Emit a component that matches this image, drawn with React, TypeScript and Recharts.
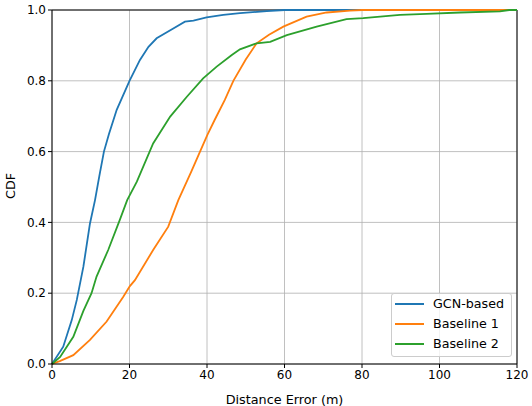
import { LineChart, Line, XAxis, YAxis, CartesianGrid, ReferenceLine } from "recharts";

const xTicks = [0, 20, 40, 60, 80, 100, 120];
const yTicks = [0, 0.2, 0.4, 0.6, 0.8, 1.0];

const gcnX = [0, 2.9, 5.1, 6.4, 8.1, 9.8, 11.1, 12.2, 13.4, 14.7, 16.7, 20, 22.7, 24.9, 27, 31.3, 34.3, 36.5, 39.9, 44.2, 48.5, 55.4, 60, 120];
const gcnY = [0, 0.049, 0.124, 0.181, 0.275, 0.397, 0.463, 0.53, 0.6, 0.65, 0.718, 0.8, 0.859, 0.896, 0.92, 0.948, 0.967, 0.97, 0.979, 0.986, 0.991, 0.997, 1, 1];

const base1X = [0, 2, 5.5, 9.8, 14.1, 18.4, 20.1, 21.4, 26.1, 30, 32.6, 36, 38.2, 40.1, 42, 44.6, 46.8, 50, 52.8, 56, 59.7, 65.7, 70.9, 76.9, 80, 120];
const base1Y = [0, 0.008, 0.025, 0.068, 0.12, 0.19, 0.22, 0.237, 0.322, 0.388, 0.463, 0.545, 0.6, 0.647, 0.69, 0.746, 0.8, 0.86, 0.906, 0.93, 0.953, 0.981, 0.993, 0.998, 1, 1];

const base2X = [0, 2.1, 5.5, 8.1, 10.2, 11.5, 14.5, 17.5, 19.4, 21.9, 26.1, 30.5, 34.8, 39, 42.5, 46.4, 48.5, 52.8, 56.3, 60.6, 68.3, 76, 80.3, 89.8, 96.7, 105.3, 115.6, 118, 120];
const base2Y = [0, 0.02, 0.077, 0.15, 0.2, 0.247, 0.322, 0.407, 0.463, 0.515, 0.623, 0.699, 0.755, 0.807, 0.84, 0.873, 0.889, 0.906, 0.91, 0.929, 0.953, 0.974, 0.977, 0.986, 0.989, 0.993, 0.996, 1, 1];

const seriesNames = ["GCN-based", "Baseline 1", "Baseline 2"];
const colors = ["#1f77b4", "#ff7f0e", "#2ca02c"];

const toPoints = (xs: number[], ys: number[]) => xs.map((x, i) => ({ x, y: ys[i] }));

const series = [
  toPoints(gcnX, gcnY),
  toPoints(base1X, base1Y),
  toPoints(base2X, base2Y),
];

const font = "DejaVu Sans, sans-serif";
const tickFont = { fontSize: 12, fill: "#000", fontFamily: font };
const labelFont = { fontSize: 12.8, fill: "#000", fontFamily: font };

function LegendBox() {
  return (
    <div
      style={{
        position: "absolute",
        left: 391,
        top: 293,
        width: 121,
        height: 64,
        boxSizing: "border-box",
        background: "rgba(255,255,255,0.8)",
        border: "1px solid #cccccc",
        borderRadius: 3,
        padding: "0 0 0 3px",
        fontFamily: font,
        fontSize: 12.7,
        color: "#000",
        lineHeight: "20px",
      }}
    >
      {seriesNames.map((name, i) => (
        <div key={name} style={{ display: "flex", alignItems: "center" }}>
          <span style={{ display: "inline-block", width: 29, height: 2, background: colors[i], marginRight: 9 }} />
          <span>{name}</span>
        </div>
      ))}
    </div>
  );
}

export default function App() {
  return (
    <div style={{ position: "absolute", left: 0, top: 0, width: 532, height: 406, background: "#fff" }}>
      <LineChart width={532} height={406} margin={{ top: 10, right: 15, left: 0, bottom: 0 }}>
        <CartesianGrid stroke="#b0b0b0" strokeWidth={0.8} />
        <XAxis
          dataKey="x"
          type="number"
          domain={[0, 120]}
          ticks={xTicks}
          allowDuplicatedCategory={false}
          height={42}
          tickSize={4}
          stroke="#000"
          tick={tickFont}
          label={{ value: "Distance Error (m)", position: "insideBottom", offset: 2, ...labelFont }}
        />
        <YAxis
          type="number"
          domain={[0, 1]}
          ticks={yTicks}
          width={52}
          tickSize={4}
          stroke="#000"
          tickFormatter={(v: number) => v.toFixed(1)}
          tick={tickFont}
          label={{ value: "CDF", angle: -90, position: "insideLeft", offset: 10, dy: 12, ...labelFont }}
        />
        <ReferenceLine y={1} stroke="#000" strokeWidth={1} />
        <ReferenceLine x={120} stroke="#000" strokeWidth={1} />
        {series.map((data, i) => (
          <Line
            key={seriesNames[i]}
            data={data}
            dataKey="y"
            name={seriesNames[i]}
            type="linear"
            stroke={colors[i]}
            strokeWidth={1.8}
            dot={false}
            isAnimationActive={false}
          />
        ))}
      </LineChart>
      <LegendBox />
    </div>
  );
}
